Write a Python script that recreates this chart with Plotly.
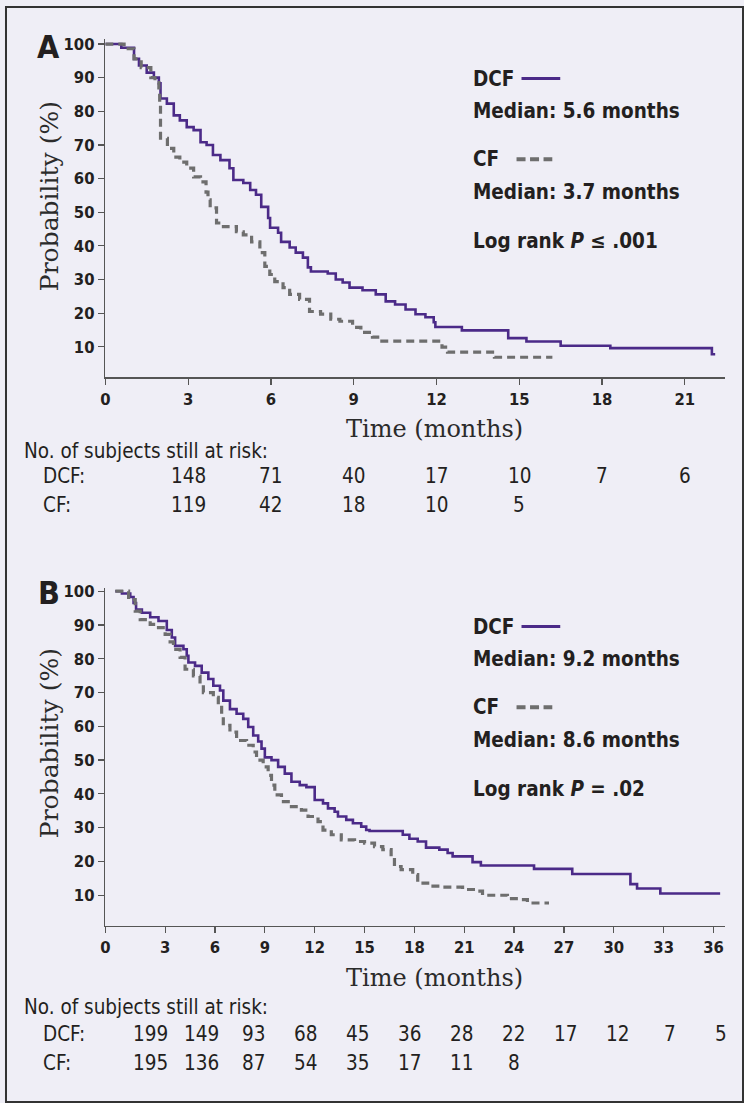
import plotly.graph_objects as go

W, H = 744, 1103

# ---------------- data ----------------
# Panel A (time in months, survival %)
a_dcf_t = [0, 0.58, 1.04, 1.22, 1.5, 1.76, 1.94, 2.0, 2.23, 2.48, 2.7, 2.95, 3.2, 3.45, 3.67, 3.9, 4.17, 4.5,
           4.64, 5.0, 5.25, 5.46, 5.65, 5.9, 5.97, 6.26, 6.37, 6.68, 6.9, 7.16, 7.34, 7.45, 8.06, 8.35, 8.6,
           8.85, 9.32, 9.8, 10.16, 10.5, 10.88, 11.24, 11.6, 11.9, 11.96, 12.92, 14.6, 15.26, 16.5, 18.3,
           21.98, 22.1]
a_dcf_s = [100, 98.9, 95.6, 93.6, 91.5, 90.0, 88.3, 83.8, 82.3, 78.8, 77.3, 75.3, 74.4, 70.8, 70.0, 67.0, 65.5,
           63.1, 59.6, 58.7, 56.6, 55.2, 51.6, 48.3, 45.4, 43.9, 41.2, 39.5, 38.0, 36.5, 33.6, 32.4, 31.8, 30.0,
           29.1, 27.6, 26.8, 25.6, 23.5, 22.6, 21.1, 19.7, 18.8, 17.3, 15.9, 14.9, 12.6, 11.6, 10.3, 9.6, 7.8, 7.8]
a_cf_t = [0, 0.68, 1.04, 1.3, 1.65, 1.8, 1.94, 1.97, 2.0, 2.25, 2.48, 2.7, 2.95, 3.2, 3.45, 3.65, 3.72, 3.8,
          4.03, 4.28, 4.75, 5.0, 5.3, 5.6, 5.78, 5.96, 6.14, 6.44, 6.68, 7.04, 7.4, 7.8, 8.17, 8.5, 8.96, 9.26,
          9.68, 9.93, 12.2, 12.4, 14.1, 16.2]
a_cf_s = [100, 98.6, 95.6, 93.0, 90.0, 88.5, 85.6, 81.8, 72.0, 69.0, 66.4, 64.9, 63.1, 60.5, 59.0, 56.0, 53.7,
          51.3, 46.8, 45.7, 44.2, 43.3, 41.2, 38.0, 33.9, 31.5, 29.4, 27.6, 25.6, 24.1, 20.5, 19.7, 18.2, 17.6,
          15.8, 14.3, 12.9, 11.7, 9.9, 8.4, 6.9, 6.9]

# Panel B
b_dcf_t = [0, 0.4, 0.9, 1.1, 1.25, 1.6, 2.1, 2.6, 3.1, 3.4, 3.6, 4.1, 4.3, 4.4, 4.8, 5.2, 5.6, 5.9, 6.3, 6.5,
           6.9, 7.3, 7.7, 8.0, 8.3, 8.6, 8.8, 9.0, 9.4, 9.8, 10.2, 10.6, 11.1, 11.5, 12.0, 12.5, 12.8, 13.2,
           13.4, 13.9, 14.3, 14.8, 15.1, 15.3, 17.3, 17.7, 18.2, 18.7, 19.5, 20.0, 20.3, 21.5, 22.0, 25.2,
           27.5, 31.0, 31.4, 32.8, 36.4]
b_dcf_s = [100, 99.3, 98.3, 96.5, 94.6, 93.6, 92.3, 91.2, 88.5, 86.3, 83.8, 82.8, 80.9, 78.9, 77.9, 75.9, 74.0,
           72.0, 70.6, 67.6, 65.1, 63.7, 62.2, 59.8, 57.3, 55.5, 53.4, 50.8, 50.0, 48.0, 46.0, 43.6, 42.6, 42.0,
           38.2, 37.2, 35.7, 34.7, 33.3, 32.3, 31.3, 30.3, 29.3, 29.0, 27.9, 26.7, 25.9, 24.1, 23.5, 22.5, 21.5,
           19.8, 18.8, 17.8, 16.3, 13.3, 12.0, 10.5, 10.5]
b_cf_t = [0, 0.8, 1.2, 1.5, 2.1, 2.6, 3.0, 3.3, 3.5, 3.9, 4.2, 4.7, 5.1, 5.3, 5.9, 6.2, 6.4, 6.5, 6.9, 7.3,
          7.9, 8.3, 8.5, 8.9, 9.2, 9.4, 9.6, 10.0, 10.6, 11.2, 11.6, 12.2, 12.5, 13.0, 13.6, 14.4, 15.0, 15.6,
          16.1, 16.6, 16.8, 17.2, 17.9, 18.2, 18.8, 19.7, 20.9, 21.7, 22.1, 23.6, 24.4, 24.8, 26.1]
b_cf_s = [100, 97.5, 94.1, 91.6, 90.2, 89.2, 87.2, 85.0, 82.8, 80.4, 76.9, 74.9, 72.5, 70.0, 68.6, 66.2, 63.2,
          60.3, 58.3, 55.8, 54.4, 52.4, 50.0, 48.0, 45.5, 42.6, 39.7, 37.7, 36.2, 35.2, 33.3, 31.8, 29.3, 27.9,
          26.4, 25.9, 25.4, 24.4, 23.5, 21.5, 18.5, 17.6, 16.1, 13.6, 12.7, 12.4, 11.7, 11.2, 10.0, 9.0, 8.7,
          7.7, 7.7]

a_ticks = [0, 3, 6, 9, 12, 15, 18, 21]
b_ticks = [0, 3, 6, 9, 12, 15, 18, 21, 24, 27, 30, 33, 36]
y_ticks = [10, 20, 30, 40, 50, 60, 70, 80, 90, 100]

a_risk_times = [3, 6, 9, 12, 15, 18, 21]
a_risk_dcf = [148, 71, 40, 17, 10, 7, 6]
a_risk_cf = [119, 42, 18, 10, 5]
b_risk_dcf = [199, 149, 93, 68, 45, 36, 28, 22, 17, 12, 7, 5]
b_risk_cf = [195, 136, 87, 54, 35, 17, 11, 8]

a_legend = ["DCF", "Median: 5.6 months", "CF", "Median: 3.7 months", "Log rank <i>P</i> ≤ .001"]
b_legend = ["DCF", "Median: 9.2 months", "CF", "Median: 8.6 months", "Log rank <i>P</i> = .02"]

# ---------------- style ----------------
BG = "#EFEEF6"
PURPLE = "#4B2A88"
GRAY = "#6E6E6E"
AXIS = "#555555"
TXT = "#231F20"
COND = "DejaVu Sans Condensed, Liberation Sans Narrow, Arial Narrow, sans-serif"
SERIF = "DejaVu Serif, Liberation Serif, serif"


def px(x):
    return x / W


def py(y):
    return 1 - y / H


fig = go.Figure()

fig.add_trace(go.Scatter(x=a_dcf_t, y=a_dcf_s, mode="lines", line=dict(color=PURPLE, width=2.6, shape="hv"),
                         xaxis="x", yaxis="y", showlegend=False, hoverinfo="skip"))
fig.add_trace(go.Scatter(x=a_cf_t, y=a_cf_s, mode="lines",
                         line=dict(color=GRAY, width=3.2, shape="hv", dash="8px,5px"),
                         xaxis="x", yaxis="y", showlegend=False, hoverinfo="skip"))
fig.add_trace(go.Scatter(x=b_dcf_t, y=b_dcf_s, mode="lines", line=dict(color=PURPLE, width=2.6, shape="hv"),
                         xaxis="x2", yaxis="y2", showlegend=False, hoverinfo="skip"))
fig.add_trace(go.Scatter(x=b_cf_t, y=b_cf_s, mode="lines",
                         line=dict(color=GRAY, width=3.2, shape="hv", dash="8px,5px"),
                         xaxis="x2", yaxis="y2", showlegend=False, hoverinfo="skip"))

tickfont = dict(family=COND, size=16.5, color=TXT, weight="bold")
common_x = dict(showgrid=False, zeroline=False, showline=True, linecolor=AXIS, linewidth=1.5,
                ticks="outside", ticklen=6, tickwidth=1.2, tickcolor=AXIS, tickfont=tickfont)
common_y = dict(showgrid=False, zeroline=False, showline=True, linecolor=AXIS, linewidth=1.5,
                ticks="outside", ticklen=6, tickwidth=1.2, tickcolor=AXIS, tickfont=tickfont,
                tickvals=y_ticks, ticktext=[str(v) for v in y_ticks])

# B axis: the "0" tick sits at the axis corner (slightly before time zero)
b_x_start = -0.6
b_tickvals = [b_x_start] + b_ticks[1:]

fig.update_layout(
    width=W, height=H, margin=dict(l=0, r=0, t=0, b=0),
    paper_bgcolor=BG, plot_bgcolor=BG,
    xaxis=dict(common_x, domain=[px(101), px(725)], range=[0, 22.46], tickvals=a_ticks,
               ticktext=[str(v) for v in a_ticks], anchor="y"),
    yaxis=dict(common_y, domain=[py(373.3), py(33.5)], range=[0.95, 101.4], anchor="x"),
    xaxis2=dict(common_x, domain=[px(101), px(725)], range=[b_x_start, 36.7], tickvals=b_tickvals,
                ticktext=[str(v) for v in b_ticks], anchor="y2"),
    yaxis2=dict(common_y, domain=[py(925), py(585)], range=[0.9, 101], anchor="x2"),
)

ann = []
shapes = []

# border
shapes.append(dict(type="rect", xref="paper", yref="paper", x0=px(1), x1=px(W - 1), y0=py(H - 1), y1=py(1),
                   line=dict(color="#333333", width=2), fillcolor="rgba(0,0,0,0)", layer="above"))


def label(x, y, text, size, family=COND, bold=False, xanchor="left", angle=0, color=TXT):
    ann.append(dict(x=px(x), y=py(y), xref="paper", yref="paper", text=text, showarrow=False,
                    xanchor=xanchor, yanchor="middle", textangle=angle,
                    font=dict(family=family, size=size, color=color, weight="bold" if bold else "normal")))


for (top, legend, risk_y, xtitle_y, ytitle_y, letter, letter_y) in [
        (0, a_legend, (447, 473, 502), 425, 191, "A", 41),
        (551, b_legend, (1006, 1034, 1063), 977, 741, "B", 590)]:
    label(44, letter_y, letter, 32, bold=True, xanchor="center")
    label(45.5, ytitle_y, "Probability (%)", 25, family=SERIF, xanchor="center", angle=-90, color="#2b2b2b")
    label(432.5, xtitle_y, "Time (months)", 24, family=SERIF, xanchor="center", color="#2b2b2b")
    label(17, risk_y[0], "No. of subjects still at risk:", 20.5)
    label(36, risk_y[1], "DCF:", 20.5)
    label(36, risk_y[2], "CF:", 20.5)
    ys = [73, 106, 154, 187, 236]
    for t, yy in zip(legend, ys):
        label(469, yy + top, t, 20.5, bold=True)
    shapes.append(dict(type="line", xref="paper", yref="paper", x0=px(520), x1=px(559),
                       y0=py(73 + top), y1=py(73 + top), line=dict(color=PURPLE, width=3)))
    shapes.append(dict(type="line", xref="paper", yref="paper", x0=px(515), x1=px(551),
                       y0=py(154 + top), y1=py(154 + top), line=dict(color=GRAY, width=4, dash="9px,4.5px")))

# risk table A (aligned with ticks)
for t, v in zip(a_risk_times, a_risk_dcf):
    ann.append(dict(x=t, y=py(473), xref="x", yref="paper", text=str(v), showarrow=False,
                    xanchor="center", yanchor="middle", font=dict(family=COND, size=20.5, color=TXT)))
for t, v in zip(a_risk_times, a_risk_cf):
    ann.append(dict(x=t, y=py(502), xref="x", yref="paper", text=str(v), showarrow=False,
                    xanchor="center", yanchor="middle", font=dict(family=COND, size=20.5, color=TXT)))

# risk table B (evenly spaced columns)
col0, step = 146, 52.3
for i, v in enumerate(b_risk_dcf):
    label(col0 + i * step, 1034, str(v), 20.5, xanchor="center")
for i, v in enumerate(b_risk_cf):
    label(col0 + i * step, 1063, str(v), 20.5, xanchor="center")

fig.update_layout(annotations=ann, shapes=shapes, hovermode=False)
fig.write_html("out.html", config={"displayModeBar": False, "staticPlot": True},
               post_script="document.body.style.margin='0';document.body.style.overflow='hidden';")
